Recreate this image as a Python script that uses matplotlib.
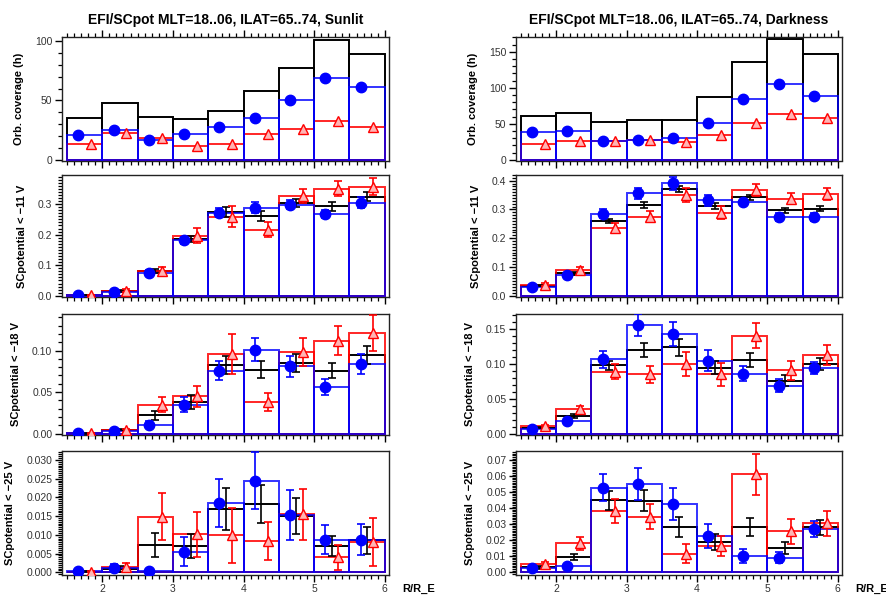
import numpy as np
import matplotlib
matplotlib.use("Agg")
import matplotlib.pyplot as plt
from matplotlib.ticker import MultipleLocator

# ---------------- data ----------------
bin_edges = [1.5, 2.0, 2.5, 3.0, 3.5, 4.0, 4.5, 5.0, 5.5, 6.0]
x_ticks = [2, 3, 4, 5, 6]
titles = ["EFI/SCpot MLT=18..06, ILAT=65..74, Sunlit",
          "EFI/SCpot MLT=18..06, ILAT=65..74, Darkness"]
ylabels = ["Orb. coverage (h)", "SCpotential < \u221211 V",
           "SCpotential < \u221218 V", "SCpotential < \u221225 V"]

# Sunlit column
sun_cov_all = [35.0, 48.2, 35.9, 34.2, 41.5, 57.7, 77.0, 101.1, 89.4]
sun_cov_blue = [20.7, 25.5, 17.1, 21.6, 27.7, 35.6, 50.7, 68.9, 61.6]
sun_cov_red = [13.7, 22.4, 18.5, 12.0, 13.4, 21.8, 26.3, 32.5, 27.5]

sun11_all = [0.002, 0.015, 0.080, 0.185, 0.274, 0.261, 0.304, 0.292, 0.324]
sun11_all_err = [0.001, 0.003, 0.006, 0.010, 0.016, 0.015, 0.013, 0.014, 0.015]
sun11_blue = [0.001, 0.013, 0.076, 0.181, 0.272, 0.288, 0.298, 0.267, 0.305]
sun11_blue_err = [0.001, 0.004, 0.008, 0.012, 0.015, 0.018, 0.015, 0.013, 0.017]
sun11_red = [0.002, 0.017, 0.081, 0.196, 0.258, 0.216, 0.327, 0.350, 0.357]
sun11_red_err = [0.002, 0.005, 0.013, 0.025, 0.034, 0.025, 0.023, 0.025, 0.027]

sun18_all = [0.0004, 0.005, 0.022, 0.038, 0.083, 0.077, 0.085, 0.076, 0.095]
sun18_all_err = [0.0003, 0.001, 0.005, 0.008, 0.011, 0.010, 0.011, 0.009, 0.011]
sun18_blue = [0.0004, 0.003, 0.011, 0.035, 0.076, 0.101, 0.081, 0.056, 0.084]
sun18_blue_err = [0.0004, 0.002, 0.004, 0.009, 0.012, 0.014, 0.013, 0.0095, 0.012]
sun18_red = [0.0004, 0.004, 0.035, 0.045, 0.096, 0.038, 0.098, 0.112, 0.121]
sun18_red_err = [0.0004, 0.002, 0.009, 0.0125, 0.024, 0.011, 0.017, 0.017, 0.022]

sun25_all = [0.0002, 0.0010, 0.0073, 0.0070, 0.0170, 0.0182, 0.0150, 0.0070, 0.0085]
sun25_all_err = [0.0002, 0.0008, 0.0032, 0.0033, 0.0056, 0.0051, 0.0048, 0.0027, 0.0036]
sun25_blue = [0.0004, 0.0012, 0.0004, 0.0055, 0.0185, 0.0245, 0.0153, 0.0087, 0.0087]
sun25_blue_err = [0.0003, 0.0010, 0.0004, 0.0038, 0.0064, 0.0075, 0.0067, 0.0038, 0.0042]
sun25_red = [0.0002, 0.0014, 0.0148, 0.0101, 0.0099, 0.0083, 0.0155, 0.0040, 0.0082]
sun25_red_err = [0.0002, 0.0012, 0.0063, 0.0060, 0.0074, 0.0050, 0.0068, 0.0034, 0.0064]

# Darkness column
dark_cov_all = [60.2, 64.8, 52.3, 54.6, 55.6, 86.6, 135.2, 167.6, 146.8]
dark_cov_blue = [38.0, 39.4, 25.5, 26.8, 30.0, 51.4, 84.3, 104.6, 88.9]
dark_cov_red = [22.2, 25.5, 26.0, 27.8, 25.0, 34.7, 50.5, 63.0, 57.4]

dark11_all = [0.035, 0.078, 0.260, 0.316, 0.372, 0.311, 0.343, 0.297, 0.303]
dark11_all_err = [0.003, 0.005, 0.008, 0.010, 0.011, 0.010, 0.009, 0.009, 0.009]
dark11_blue = [0.031, 0.071, 0.285, 0.357, 0.391, 0.332, 0.326, 0.273, 0.274]
dark11_blue_err = [0.004, 0.006, 0.016, 0.019, 0.022, 0.019, 0.008, 0.013, 0.013]
dark11_red = [0.038, 0.089, 0.237, 0.274, 0.350, 0.289, 0.369, 0.338, 0.353]
dark11_red_err = [0.005, 0.010, 0.015, 0.019, 0.024, 0.024, 0.021, 0.019, 0.020]

dark18_all = [0.0087, 0.025, 0.098, 0.120, 0.124, 0.095, 0.106, 0.076, 0.100]
dark18_all_err = [0.001, 0.003, 0.006, 0.010, 0.012, 0.010, 0.010, 0.008, 0.009]
dark18_blue = [0.007, 0.018, 0.107, 0.156, 0.143, 0.105, 0.086, 0.069, 0.094]
dark18_blue_err = [0.002, 0.003, 0.012, 0.016, 0.017, 0.015, 0.011, 0.009, 0.009]
dark18_red = [0.011, 0.035, 0.089, 0.085, 0.100, 0.085, 0.141, 0.091, 0.113]
dark18_red_err = [0.002, 0.004, 0.011, 0.012, 0.017, 0.016, 0.018, 0.014, 0.015]

dark25_all = [0.0030, 0.0094, 0.0450, 0.0446, 0.0285, 0.0190, 0.0280, 0.0150, 0.0280]
dark25_all_err = [0.0008, 0.0020, 0.0060, 0.0065, 0.0063, 0.0050, 0.0056, 0.0039, 0.0046]
dark25_blue = [0.0027, 0.0037, 0.0529, 0.0552, 0.0425, 0.0223, 0.0100, 0.0090, 0.0270]
dark25_blue_err = [0.0010, 0.0012, 0.0085, 0.0098, 0.0102, 0.0075, 0.0042, 0.0036, 0.0050]
dark25_red = [0.0050, 0.0180, 0.0381, 0.0348, 0.0115, 0.0163, 0.0612, 0.0256, 0.0306]
dark25_red_err = [0.0015, 0.0040, 0.0076, 0.0080, 0.0060, 0.0065, 0.0130, 0.0077, 0.0077]

# ---------------- layout ----------------
W, H = 887, 597
fig = plt.figure(figsize=(W / 100, H / 100), dpi=100)
plt.rcParams['font.family'] = ['Liberation Sans', 'DejaVu Sans']

col_x = [(62, 389), (516, 842)]
row_y = [(36.7, 160.5), (175, 297), (314, 435), (451, 574.5)]

ylims = [[(-0.5, 103.6), (-0.004, 0.395), (-0.0016, 0.144), (-0.0006, 0.0324)],
         [(-1.0, 171.0), (-0.005, 0.42), (-0.002, 0.172), (-0.0015, 0.0758)]]
ymajor = [[50, 0.1, 0.05, 0.005], [50, 0.1, 0.05, 0.01]]
yminor = [[10, 0.01, 0.01, 0.0005], [10, 0.01, 0.01, 0.001]]

cols = [
    [(sun_cov_all, None, sun_cov_blue, None, sun_cov_red, None),
     (sun11_all, sun11_all_err, sun11_blue, sun11_blue_err, sun11_red, sun11_red_err),
     (sun18_all, sun18_all_err, sun18_blue, sun18_blue_err, sun18_red, sun18_red_err),
     (sun25_all, sun25_all_err, sun25_blue, sun25_blue_err, sun25_red, sun25_red_err)],
    [(dark_cov_all, None, dark_cov_blue, None, dark_cov_red, None),
     (dark11_all, dark11_all_err, dark11_blue, dark11_blue_err, dark11_red, dark11_red_err),
     (dark18_all, dark18_all_err, dark18_blue, dark18_blue_err, dark18_red, dark18_red_err),
     (dark25_all, dark25_all_err, dark25_blue, dark25_blue_err, dark25_red, dark25_red_err)],
]

edges = np.array(bin_edges)
left = edges[:-1]
width = np.diff(edges)
centers = left + width / 2
off = 0.09
BLUE = '#0000ff'
RED = '#ff0000'
tick_col = '#333333'

for c in range(2):
    x0, x1 = col_x[c]
    for r in range(4):
        y0, y1 = row_y[r]
        ax = fig.add_axes([x0 / W, 1 - y1 / H, (x1 - x0) / W, (y1 - y0) / H])
        a, ae, b, be, rd, rde = cols[c][r]
        # histograms as open bars
        ax.bar(left, a, width=width, align='edge', fill=False, edgecolor='black',
               linewidth=1.4, zorder=2)
        ax.bar(left, rd, width=width, align='edge', fill=False, edgecolor=RED,
               linewidth=1.4, alpha=0.85, zorder=3)
        ax.bar(left, b, width=width, align='edge', fill=False, edgecolor=BLUE,
               linewidth=1.4, alpha=0.8, zorder=4)
        if ae is not None:
            ax.errorbar(centers, a, yerr=ae, fmt='none', ecolor='black',
                        elinewidth=1.2, capsize=3.2, capthick=1.2, zorder=5)
            ax.errorbar(centers - off, b, yerr=be, fmt='none', ecolor=BLUE,
                        elinewidth=1.2, capsize=3.2, capthick=1.2, zorder=5)
            ax.errorbar(centers + off, rd, yerr=rde, fmt='none', ecolor=RED,
                        elinewidth=1.2, capsize=3.2, capthick=1.2, zorder=5)
        ax.plot(centers - off, b, 'o', color=BLUE, markersize=7.5, zorder=6)
        ax.plot(centers + off, rd, '^', markerfacecolor='#ffb4b4',
                markeredgecolor=RED, markersize=7.5, markeredgewidth=1.0, zorder=6)

        ax.set_xlim(1.43, 6.06)
        ax.set_ylim(*ylims[c][r])
        ax.xaxis.set_major_locator(MultipleLocator(1))
        ax.xaxis.set_minor_locator(MultipleLocator(0.1))
        ax.yaxis.set_major_locator(MultipleLocator(ymajor[c][r]))
        ax.yaxis.set_minor_locator(MultipleLocator(yminor[c][r]))
        ax.set_xticks(x_ticks)
        ax.tick_params(axis='both', which='major', direction='out', length=5,
                       width=1.0, labelsize=7.5, colors='black', labelcolor=tick_col,
                       pad=2)
        ax.tick_params(axis='both', which='minor', direction='out', length=3,
                       width=0.9, colors='black')
        ax.tick_params(axis='x', which='both', top=(r == 0), labeltop=False)
        ax.tick_params(axis='y', which='both', right=False)
        if r < 3:
            ax.tick_params(axis='x', which='both', labelbottom=False)
        for s in ax.spines.values():
            s.set_linewidth(1.0)
            s.set_color('#222222')
        ax.set_ylabel(ylabels[r], fontsize=8, fontweight='bold', labelpad=8)
        if r == 0:
            ax.set_title(titles[c], fontsize=10, fontweight='bold', pad=9)
        if r == 3:
            ax.text(1.04, -0.12, 'R/R_E', transform=ax.transAxes, fontsize=8,
                    fontweight='bold', ha='left', va='center')

fig.savefig('out.png', dpi=100)
